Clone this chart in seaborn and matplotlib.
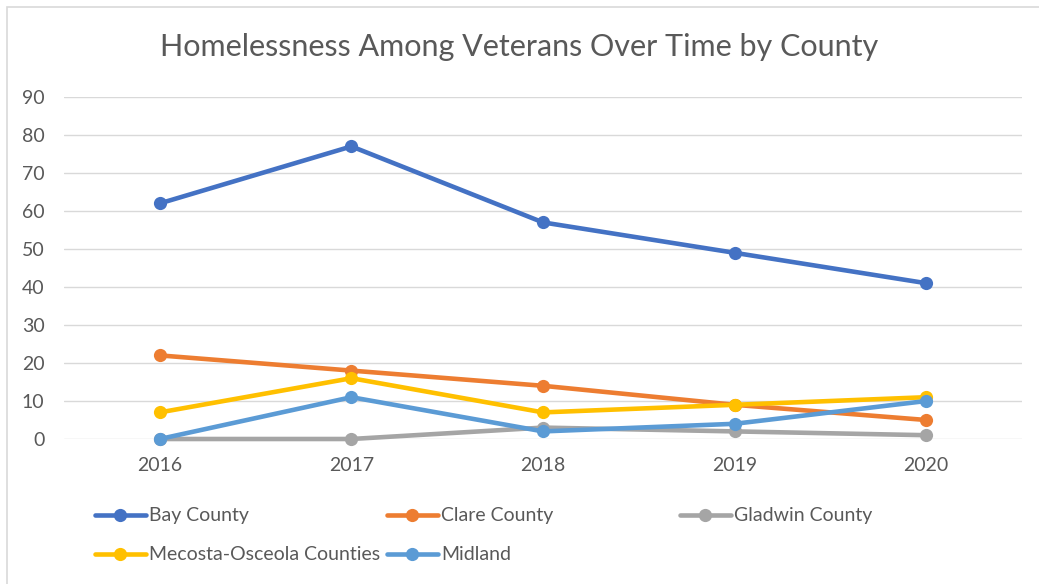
import matplotlib
matplotlib.use("Agg")
import matplotlib.pyplot as plt
from matplotlib.patches import Rectangle
import pandas as pd
import seaborn as sns

# Data
years = ["2016", "2017", "2018", "2019", "2020"]
bay_county = [62, 77, 57, 49, 41]
clare_county = [22, 18, 14, 9, 5]
gladwin_county = [0, 0, 3, 2, 1]
mecosta_osceola = [7, 16, 7, 9, 11]
midland = [0, 11, 2, 4, 10]

series_names = ["Bay County", "Clare County", "Gladwin County",
                "Mecosta-Osceola Counties", "Midland"]
series_values = [bay_county, clare_county, gladwin_county, mecosta_osceola, midland]
colors = ["#4472C4", "#ED7D31", "#A5A5A5", "#FFC000", "#5B9BD5"]

rows = []
for name, vals in zip(series_names, series_values):
    for yr, v in zip(years, vals):
        rows.append({"Year": yr, "Count": v, "County": name})
df = pd.DataFrame(rows)

sns.set_theme(style="white")
plt.rcParams["font.family"] = ["Lato", "DejaVu Sans"]
text_color = "#595959"
grid_color = "#D9D9D9"
label_size = 14

W, H = 1039, 584
fig = plt.figure(figsize=(W / 100, H / 100), dpi=100)
fig.patch.set_facecolor("white")

# chart-area border (left and top edges visible)
fig.add_artist(Rectangle((7 / W, -0.5), 2.0, 0.5 + (H - 7) / H,
                         transform=fig.transFigure, fill=False,
                         edgecolor=grid_color, linewidth=1.2))

ax = fig.add_axes([64 / W, (H - 439) / H, (1022 - 64) / W, (439 - 97) / H])

sns.lineplot(data=df, x="Year", y="Count", hue="County",
             hue_order=series_names, palette=colors,
             marker="o", markersize=9.5, markeredgewidth=0,
             linewidth=3.3, sort=False, ax=ax, legend=True)

for line in ax.lines:
    line.set_clip_on(False)
    line.set_solid_capstyle("round")

ax.set_xlim(-0.5, 4.5)
ax.set_ylim(0, 90)
ax.set_yticks(range(0, 91, 10))
ax.yaxis.grid(True, color=grid_color, linewidth=1.0)
ax.set_axisbelow(True)
for s in ax.spines.values():
    s.set_visible(False)
ax.set_xlabel("")
ax.set_ylabel("")
ax.tick_params(axis="y", length=0, pad=14, labelsize=label_size, labelcolor=text_color)
ax.tick_params(axis="x", length=0, pad=13, labelsize=label_size, labelcolor=text_color)

fig.text(0.5, (H - 47) / H, "Homelessness Among Veterans Over Time by County",
         ha="center", va="center", fontsize=22, color=text_color)

# Legend: one entry per slot, laid out in a 3-column grid
handles, labels = ax.get_legend_handles_labels()
ax.get_legend().remove()
slots = [(95, 516), (387, 516), (680, 516), (95, 555), (387, 555)]
for h, lab, (px, py) in zip(handles, labels, slots):
    fig.legend(handles=[h], labels=[lab], loc="center left",
               bbox_to_anchor=(px / W, (H - py) / H),
               frameon=False, fontsize=label_size, labelcolor=text_color,
               handlelength=2.6, handletextpad=0.2, borderpad=0,
               borderaxespad=0)

fig.savefig("out.png", dpi=100)
